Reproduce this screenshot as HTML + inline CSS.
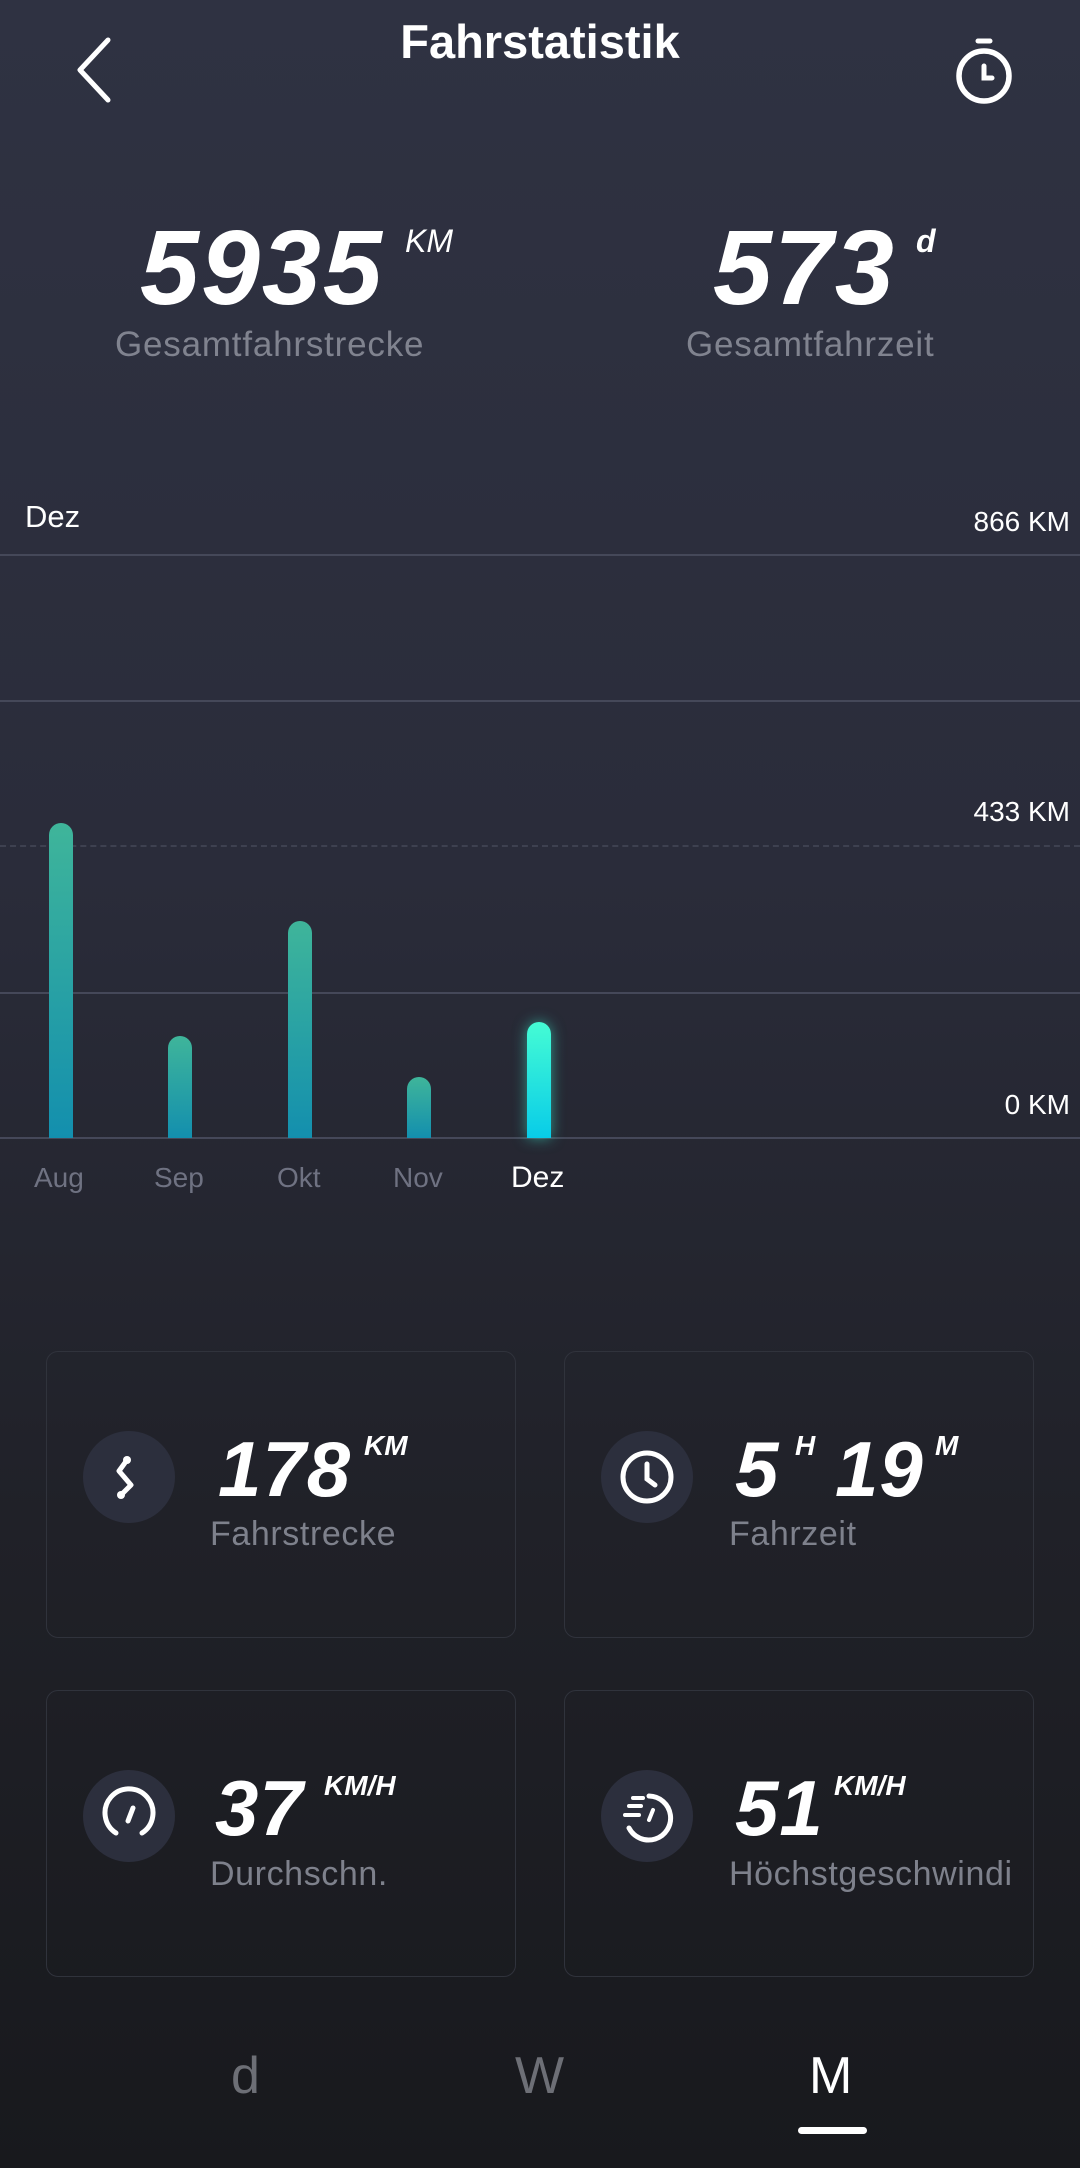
<!DOCTYPE html>
<html><head><meta charset="utf-8"><style>
*{margin:0;padding:0;box-sizing:border-box}
body{width:1080px;height:2168px;overflow:hidden;background:linear-gradient(180deg,#2f3242 0%,#2a2c3a 40%,#202128 70%,#18191d 100%);font-family:"Liberation Sans",sans-serif;color:#fff;position:relative}
.a{position:absolute;white-space:nowrap}
.big{font-weight:bold;font-style:italic;letter-spacing:2px}
.gray{color:#80838f}
.grid{position:absolute;left:0;width:1080px;height:2px;background:#454859}
.bar{position:absolute;width:24px;border-radius:12px 12px 0 0;background:linear-gradient(180deg,#3fb59a,#138fae)}
.card{position:absolute;width:470px;height:287px;border:1.5px solid #30333c;border-radius:12px}
.ic{position:absolute;width:92px;height:92px;border-radius:50%;background:#2c2f3d}
.val{font-size:78px;font-weight:bold;font-style:italic;letter-spacing:1px}
.sup{font-size:30px;font-weight:bold;font-style:italic}
.lab{font-size:34px;color:#7e818c;letter-spacing:0.6px}
</style></head><body>
<svg class="a" style="left:70px;top:36px" width="50" height="68" viewBox="0 0 50 68"><polyline points="38,4 10,34 38,64" fill="none" stroke="#fff" stroke-width="5" stroke-linecap="round" stroke-linejoin="round"/></svg>
<div class="a" style="left:0;width:1080px;text-align:center;top:14px;font-size:47px;font-weight:bold">Fahrstatistik</div>
<svg class="a" style="left:952px;top:36px" width="64" height="70" viewBox="0 0 64 70"><line x1="26" y1="5" x2="38" y2="5" stroke="#fff" stroke-width="5" stroke-linecap="round"/><circle cx="32" cy="40" r="25" fill="none" stroke="#fff" stroke-width="5.5"/><polyline points="32,30 32,42 40,42" fill="none" stroke="#fff" stroke-width="5" stroke-linecap="round"/></svg>

<div class="a big" style="left:140px;top:208px;font-size:106px">5935</div>
<div class="a sup" style="left:405px;top:223px;font-size:32px;font-weight:normal">KM</div>
<div class="a gray" style="left:115px;top:325px;font-size:35px;letter-spacing:0.8px">Gesamtfahrstrecke</div>
<div class="a big" style="left:713px;top:208px;font-size:106px">573</div>
<div class="a sup" style="left:916px;top:223px;font-size:32px">d</div>
<div class="a gray" style="left:686px;top:325px;font-size:35px;letter-spacing:0.8px">Gesamtfahrzeit</div>

<div class="a" style="left:25px;top:499px;font-size:31px">Dez</div>
<div class="a" style="right:10px;top:506px;font-size:28px">866 KM</div>
<div class="a" style="right:10px;top:796px;font-size:28px">433 KM</div>
<div class="a" style="right:10px;top:1089px;font-size:28px">0 KM</div>
<div class="grid" style="top:554px"></div>
<div class="grid" style="top:700px"></div>
<div class="a" style="left:0;top:845px;width:1080px;border-top:2px dashed #3e4150"></div>
<div class="grid" style="top:992px"></div>
<div class="grid" style="top:1137px"></div>
<div class="bar" style="left:49px;top:823px;height:315px"></div>
<div class="bar" style="left:168px;top:1036px;height:102px"></div>
<div class="bar" style="left:288px;top:921px;height:217px"></div>
<div class="bar" style="left:407px;top:1077px;height:61px"></div>
<div class="bar" style="left:527px;top:1022px;height:116px;background:linear-gradient(180deg,#45fcd4,#08cce8);box-shadow:0 0 14px rgba(60,240,210,0.55)"></div>
<div class="a gray" style="left:34px;top:1162px;font-size:28px;color:#6f7282">Aug</div>
<div class="a gray" style="left:154px;top:1162px;font-size:28px;color:#6f7282">Sep</div>
<div class="a gray" style="left:277px;top:1162px;font-size:28px;color:#6f7282">Okt</div>
<div class="a gray" style="left:393px;top:1162px;font-size:28px;color:#6f7282">Nov</div>
<div class="a" style="left:511px;top:1161px;font-size:30px">Dez</div>

<div class="card" style="left:46px;top:1351px"></div>
<div class="card" style="left:564px;top:1351px"></div>
<div class="card" style="left:46px;top:1690px"></div>
<div class="card" style="left:564px;top:1690px"></div>

<div class="ic" style="left:83px;top:1431px"><svg width="92" height="92" viewBox="0 0 92 92"><polyline points="44,29 36,40 48,54 38,64" fill="none" stroke="#fff" stroke-width="5" stroke-linecap="round" stroke-linejoin="round"/><circle cx="44" cy="29" r="4" fill="#fff"/><circle cx="38" cy="64" r="4" fill="#fff"/></svg></div>
<div class="ic" style="left:601px;top:1431px"><svg width="92" height="92" viewBox="0 0 92 92"><circle cx="46" cy="46" r="24" fill="none" stroke="#fff" stroke-width="5"/><polyline points="46,33 46,48 54,54" fill="none" stroke="#fff" stroke-width="5" stroke-linecap="round"/></svg></div>
<div class="ic" style="left:83px;top:1770px"><svg width="92" height="92" viewBox="0 0 92 92"><path d="M33,63 A24,24 0 1 1 59,63" fill="none" stroke="#fff" stroke-width="5" stroke-linecap="round"/><line x1="50" y1="38" x2="45" y2="51" stroke="#fff" stroke-width="5" stroke-linecap="round"/></svg></div>
<div class="ic" style="left:601px;top:1770px"><svg width="92" height="92" viewBox="0 0 92 92"><path d="M48,26 A22,22 0 1 1 28,58" fill="none" stroke="#fff" stroke-width="5" stroke-linecap="round"/><line x1="28" y1="36" x2="40" y2="36" stroke="#fff" stroke-width="4" stroke-linecap="round"/><line x1="24" y1="45" x2="38" y2="45" stroke="#fff" stroke-width="4" stroke-linecap="round"/><line x1="32" y1="28" x2="42" y2="28" stroke="#fff" stroke-width="4" stroke-linecap="round"/><line x1="52" y1="40" x2="48" y2="50" stroke="#fff" stroke-width="4" stroke-linecap="round"/></svg></div>

<div class="a val" style="left:218px;top:1424px">178</div>
<div class="a sup" style="left:364px;top:1430px;font-size:28px">KM</div>
<div class="a lab" style="left:210px;top:1515px">Fahrstrecke</div>
<div class="a val" style="left:735px;top:1424px">5</div>
<div class="a sup" style="left:795px;top:1430px;font-size:28px">H</div>
<div class="a val" style="left:835px;top:1424px">19</div>
<div class="a sup" style="left:935px;top:1430px;font-size:28px">M</div>
<div class="a lab" style="left:729px;top:1515px">Fahrzeit</div>
<div class="a val" style="left:215px;top:1763px">37</div>
<div class="a sup" style="left:324px;top:1770px;font-size:28px">KM/H</div>
<div class="a lab" style="left:210px;top:1855px">Durchschn.</div>
<div class="a val" style="left:735px;top:1763px">51</div>
<div class="a sup" style="left:834px;top:1770px;font-size:28px">KM/H</div>
<div class="a lab" style="left:729px;top:1855px">Höchstgeschwindi</div>

<div class="a" style="left:231px;top:2046px;font-size:52px;color:#6d6f76">d</div>
<div class="a" style="left:515px;top:2046px;font-size:52px;color:#6d6f76">W</div>
<div class="a" style="left:809px;top:2046px;font-size:52px">M</div>
<div class="a" style="left:798px;top:2127px;width:69px;height:7px;border-radius:4px;background:#fff"></div>
</body></html>
